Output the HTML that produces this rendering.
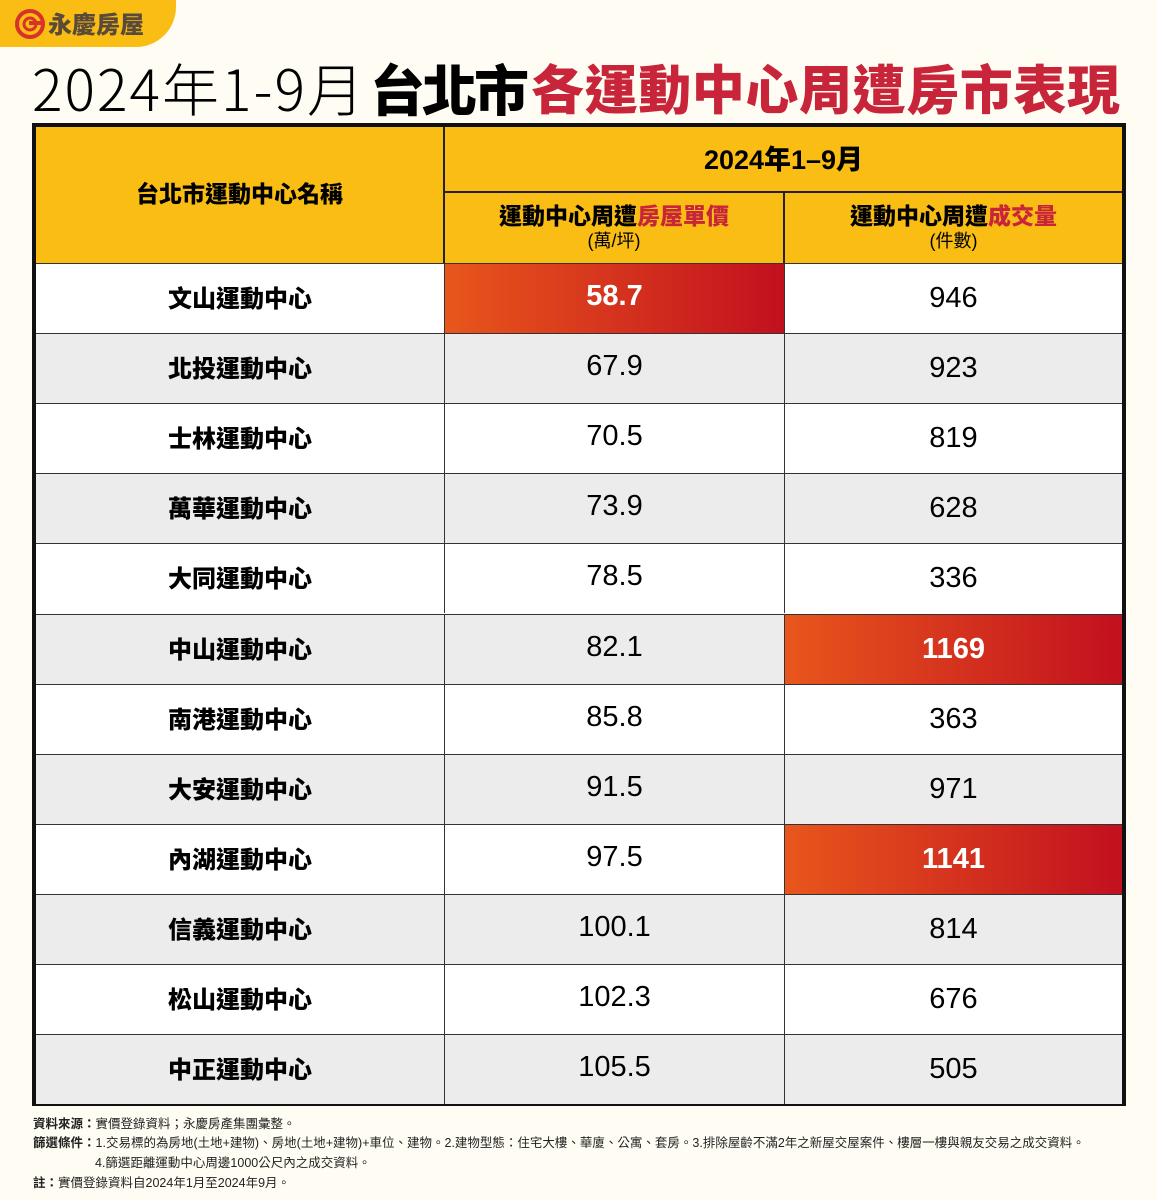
<!DOCTYPE html>
<html><head><meta charset="utf-8">
<style>
body{margin:0;background:#fffdf3;}
#root{position:relative;width:1157px;height:1200px;overflow:hidden;background:#fffdf3;font-family:"Liberation Sans","Noto Sans CJK TC",sans-serif;}
.logo{position:absolute;left:0;top:0;width:176px;height:47px;background:#f9bd14;border-bottom-right-radius:40px;}
.title{position:absolute;top:52px;white-space:nowrap;font-size:55px;line-height:70px;font-family:"Noto Sans CJK TC",sans-serif;}
.cell{position:absolute;display:flex;align-items:center;justify-content:center;box-sizing:border-box;}
.hl{background:linear-gradient(90deg,#e8561c,#c2101f);color:#fff;font-weight:bold;}
.foot{position:absolute;left:33px;font-size:12.5px;color:#222;white-space:nowrap;font-family:"Liberation Sans","Noto Sans CJK TC",sans-serif;}
</style></head><body>
<div id="root">
<div class="logo">
 <svg style="position:absolute;left:14px;top:8px" width="32" height="32"><circle cx="16" cy="16" r="13" fill="none" stroke="#d8332a" stroke-width="4"/><circle cx="16" cy="16" r="6" fill="none" stroke="#d8332a" stroke-width="3"/><rect x="15" y="13" width="12" height="4" fill="#d8332a"/></svg>
 <div style="position:absolute;left:48px;top:7px;font:900 24px 'Noto Sans CJK TC',sans-serif;color:#5a4a3a;line-height:32px;">永慶房屋</div>
</div>
<div class="title" style="left:32px;font-weight:300;font-size:57px;letter-spacing:2px">2024年1-9月</div>
<div class="title" style="left:370px;font-weight:900;letter-spacing:-3px">台北市</div>
<div class="title" style="left:531px;font-weight:900;color:#c8253a;font-size:53px;letter-spacing:0.6px">各運動中心周遭房市表現</div>
<div id="table" style="position:absolute;left:32px;top:123px;width:1094px;height:983px;border:4px solid #111;box-sizing:border-box;background:#fff"></div>
<div class="foot" style="top:1113px"><b>資料來源：</b>實價登錄資料；永慶房產集團彙整。</div>
<div class="foot" style="top:1132px"><b>篩選條件：</b>1.交易標的為房地(土地+建物)、房地(土地+建物)+車位、建物。2.建物型態：住宅大樓、華廈、公寓、套房。3.排除屋齡不滿2年之新屋交屋案件、樓層一樓與親友交易之成交資料。</div>
<div class="foot" style="top:1152px;left:95px">4.篩選距離運動中心周邊1000公尺內之成交資料。</div>
<div class="foot" style="top:1172px"><b>註：</b>實價登錄資料自2024年1月至2024年9月。</div>
</div>
<script>
const centers=["文山運動中心","北投運動中心","士林運動中心","萬華運動中心","大同運動中心","中山運動中心","南港運動中心","大安運動中心","內湖運動中心","信義運動中心","松山運動中心","中正運動中心"];
const prices=["58.7","67.9","70.5","73.9","78.5","82.1","85.8","91.5","97.5","100.1","102.3","105.5"];
const counts=[946,923,819,628,336,1169,363,971,1141,814,676,505];
const priceHighlight=[0];
const countHighlight=[5,8];
const T=document.getElementById('table');
const X1=409,X2=749,X3=1086;
function cell(x,y,w,h,html,cls,style,name){
  const d=document.createElement('div');
  d.className='cell '+(cls||'');
  d.style.cssText=`left:${x}px;top:${y}px;width:${w}px;height:${h}px;`+(style||'');
  d.innerHTML=html;
  
  
  T.appendChild(d);return d;
}
const H1=66,H2=70,RH=70.1;
const YEL="#f9bd14";
cell(0,0,X1,H1+H2,'台北市運動中心名稱','',`background:${YEL};font-weight:900;font-size:23px;border-right:2px solid #222;padding-bottom:6px;font-family:'Noto Sans CJK TC',sans-serif;`,'header-name');
cell(X1,0,X3-X1,H1,'2024年1–9月','',`background:${YEL};font-weight:900;font-size:27px;border-bottom:2px solid #222;padding-bottom:4px;`,'header-period');
cell(X1,H1,X2-X1,H2,'<div style="text-align:center;line-height:27px"><div style="font-weight:900;font-size:23px;font-family:\'Noto Sans CJK TC\',sans-serif">運動中心周遭<span style="color:#c8253a">房屋單價</span></div><div style="font-size:18px">(萬/坪)</div></div>','',`background:${YEL};border-right:2px solid #222;`,'header-price');
cell(X2,H1,X3-X2,H2,'<div style="text-align:center;line-height:27px"><div style="font-weight:900;font-size:23px;font-family:\'Noto Sans CJK TC\',sans-serif">運動中心周遭<span style="color:#c8253a">成交量</span></div><div style="font-size:18px">(件數)</div></div>','',`background:${YEL};`,'header-count');
centers.forEach((c,i)=>{
  const y=H1+H2+i*RH;
  const bg=i%2?'#ececec':'#fff';
  const bt='border-top:1.5px solid #333;';
  cell(0,y,X1,RH,c,'',`background:${bg};${bt}border-right:1.5px solid #333;font-weight:900;font-size:24px;padding-bottom:4px;font-family:'Noto Sans CJK TC',sans-serif;`,'row-name-'+i);
  const ph=priceHighlight.includes(i);
  cell(X1,y,X2-X1,RH,prices[i],ph?'hl':'',`${ph?'':'background:'+bg+';'}${bt}border-right:1.5px solid #333;font-size:29px;padding-bottom:4px;`,'price-cell-'+i);
  const ch=countHighlight.includes(i);
  cell(X2,y,X3-X2,RH,String(counts[i]),ch?'hl':'',`${ch?'':'background:'+bg+';'}${bt}font-size:29px;`,'count-cell-'+i);
});
</script>
</body></html>
